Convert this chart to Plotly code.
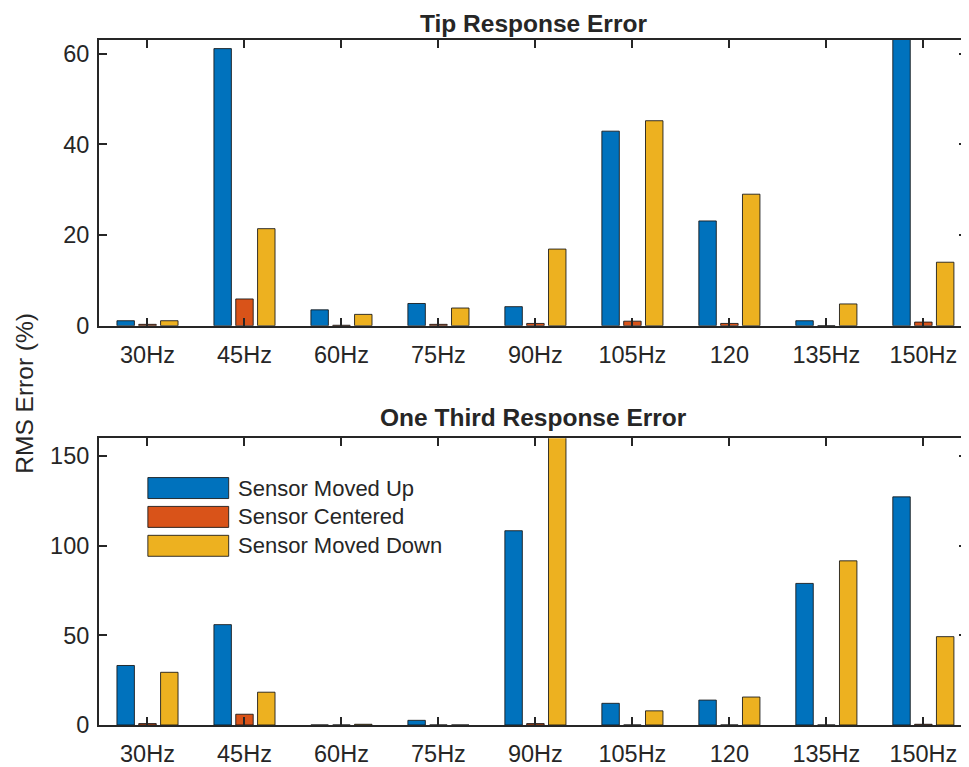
import plotly.graph_objects as go
from plotly.subplots import make_subplots

categories = ["30Hz", "45Hz", "60Hz", "75Hz", "90Hz", "105Hz", "120", "135Hz", "150Hz"]
series_names = ["Sensor Moved Up", "Sensor Centered", "Sensor Moved Down"]
colors = ["#0072BD", "#D95319", "#EDB120"]

tip_up = [1.1, 61.1, 3.5, 4.9, 4.2, 42.9, 23.1, 1.1, 68.0]
tip_centered = [0.3, 5.9, 0.1, 0.3, 0.5, 1.0, 0.5, 0.0, 0.8]
tip_down = [1.1, 21.4, 2.5, 3.9, 16.9, 45.2, 29.0, 4.8, 14.0]

third_up = [33.2, 56.0, 0.0, 2.6, 108.4, 12.1, 13.9, 79.0, 127.3]
third_centered = [0.8, 6.0, 0.0, 0.0, 0.8, 0.0, 0.0, 0.0, 0.4]
third_down = [29.4, 18.3, 0.4, 0.0, 170.0, 7.9, 15.6, 91.6, 49.3]

tip_ticks = [0, 20, 40, 60]
third_ticks = [0, 50, 100, 150]

FONT = "Liberation Sans, Arial, sans-serif"
AX = "#262626"
EDGE = "rgba(20,20,20,0.85)"

fig = make_subplots(rows=2, cols=1, vertical_spacing=0.164)
tip = [tip_up, tip_centered, tip_down]
third = [third_up, third_centered, third_down]
xs = list(range(len(categories)))
for i in range(3):
    fig.add_trace(go.Bar(x=xs, y=tip[i], name=series_names[i], marker_color=colors[i],
                         marker_line=dict(color=EDGE, width=1),
                         showlegend=False), row=1, col=1)
    fig.add_trace(go.Bar(x=xs, y=third[i], name=series_names[i], marker_color=colors[i],
                         marker_line=dict(color=EDGE, width=1),
                         showlegend=False), row=2, col=1)

xaxis_common = dict(range=[-0.5, 8.45], tickmode="array", tickvals=xs, ticktext=categories,
                    showline=True, linecolor=AX, linewidth=2, mirror="ticks",
                    ticks="inside", ticklen=8, tickwidth=1.5, tickcolor=AX,
                    showgrid=False, zeroline=False, ticklabelstandoff=7,
                    tickfont=dict(family=FONT, size=23.5, color=AX))
yaxis_common = dict(showline=True, linecolor=AX, linewidth=2, mirror="ticks",
                    ticks="inside", ticklen=8, tickwidth=1.5, tickcolor=AX,
                    showgrid=False, zeroline=False, ticklabelstandoff=3,
                    tickfont=dict(family=FONT, size=23.5, color=AX))
fig.update_xaxes(**xaxis_common)
fig.update_yaxes(**yaxis_common)
fig.update_yaxes(range=[0, 63], tickvals=tip_ticks, row=1, col=1)
fig.update_yaxes(range=[0, 160], tickvals=third_ticks, row=2, col=1)
fig.update_layout(yaxis=dict(domain=[0.5829, 1.0]), yaxis2=dict(domain=[0.0, 0.4186]))

fig.update_layout(
    width=961, height=759,
    margin=dict(l=91, r=0, t=32, b=39),
    paper_bgcolor="white", plot_bgcolor="white",
    barmode="group", bargap=0.325, bargroupgap=0.2,
    showlegend=False,
)

# titles
fig.add_annotation(text="<b>Tip Response Error</b>", xref="paper", yref="paper",
                   x=0.5006, y=1.0245, xanchor="center", yanchor="middle", showarrow=False,
                   borderpad=0, font=dict(family=FONT, size=24.5, color=AX))
fig.add_annotation(text="<b>One Third Response Error</b>", xref="paper", yref="paper",
                   x=0.5006, y=0.4491, xanchor="center", yanchor="middle", showarrow=False,
                   borderpad=0, font=dict(family=FONT, size=24.5, color=AX))
# shared y label
fig.add_annotation(text="RMS Error (%)", xref="paper", yref="paper",
                   x=-0.0862, y=0.484, xanchor="center", yanchor="middle", textangle=-90,
                   showarrow=False, font=dict(family=FONT, size=24.5, color=AX))

# custom legend (MATLAB-style wide swatches)
leg_y = [0.3459, 0.3038, 0.2616]
for i in range(3):
    fig.add_shape(type="rect", xref="paper", yref="paper",
                  x0=0.0563, x1=0.1494, y0=leg_y[i] - 0.0153, y1=leg_y[i] + 0.0153,
                  fillcolor=colors[i], line=dict(color=EDGE, width=1))
    fig.add_annotation(text=series_names[i], xref="paper", yref="paper",
                       x=0.1575, y=leg_y[i], xanchor="left", yanchor="middle",
                       showarrow=False, font=dict(family=FONT, size=22, color=AX))

fig.write_html("out.html")
